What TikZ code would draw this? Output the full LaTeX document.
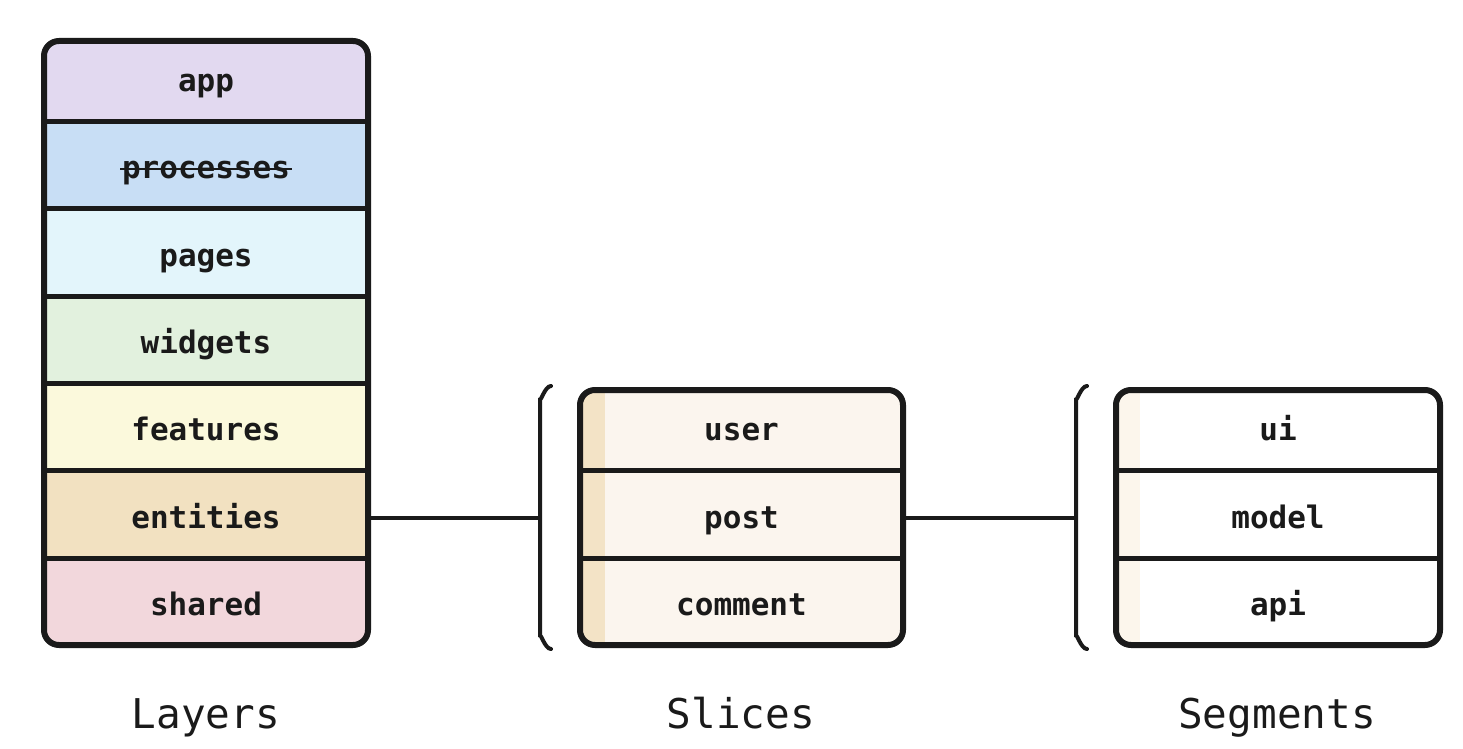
\documentclass[tikz,border=0pt]{standalone}
\usepackage{fontspec}
\setmonofont{DejaVu Sans Mono}
\usepackage{tikz}
\usetikzlibrary{positioning}
\definecolor{InkBlack}{HTML}{1A1A1A}
\definecolor{AppPurple}{HTML}{E2D9F0}
\definecolor{ProcBlue}{HTML}{C8DEF5}
\definecolor{PageCyan}{HTML}{E3F5FB}
\definecolor{WidgGreen}{HTML}{E2F1DE}
\definecolor{FeatYellow}{HTML}{FBF9DC}
\definecolor{EntTan}{HTML}{F2E1C1}
\definecolor{SharPink}{HTML}{F2D7DC}
\definecolor{SliceCream}{HTML}{FBF5EE}
\definecolor{SliceStrip}{HTML}{F3E3C6}
\definecolor{SegStrip}{HTML}{FCF6EC}
\newcommand{\strikeword}[1]{\setbox0=\hbox{#1}\rlap{\kern-1pt\raisebox{0.27em}{\rule{\dimexpr\wd0+2pt\relax}{0.9pt}}}\box0}

\tikzset{
  row/.style={minimum width=162pt, minimum height=43.7pt, inner sep=0pt,
    text height=17pt, text depth=3pt,
    text=InkBlack, font=\fontsize{15.5}{18}\selectfont\ttfamily\bfseries},
  boxline/.style={line width=3pt, draw=InkBlack, rounded corners=7.5pt},
  divline/.style={line width=2.5pt, draw=InkBlack},
  brace/.style={line width=2pt, draw=InkBlack, line cap=round},
  wire/.style={line width=2pt, draw=InkBlack},
  caption/.style={anchor=base, text=InkBlack, font=\fontsize{20.5}{24}\selectfont\ttfamily}
}

\begin{document}
\begin{tikzpicture}[x=0.5pt, y=-0.5pt]
    \useasboundingbox (0,0) rectangle (1463,749);

    % layers
    \begin{scope}
      \clip[rounded corners=7.5pt] (44,41) rectangle (368,645);
      \node[row, fill=AppPurple] (app) at (206,77.3) {app};
      \node[row, fill=ProcBlue] (processes) at (206,164.6) {\strikeword{processes}};
      \node[row, fill=PageCyan] (pages) at (206,252.0) {pages};
      \node[row, fill=WidgGreen] (widgets) at (206,339.4) {widgets};
      \node[row, fill=FeatYellow] (features) at (206,426.7) {features};
      \node[row, fill=EntTan] (entities) at (206,514.1) {entities};
      \node[row, fill=SharPink] (shared) at (206,601.5) {shared};
    \end{scope}
    \draw[divline] (app.south west) -- (app.south east);
    \draw[divline] (processes.south west) -- (processes.south east);
    \draw[divline] (pages.south west) -- (pages.south east);
    \draw[divline] (widgets.south west) -- (widgets.south east);
    \draw[divline] (features.south west) -- (features.south east);
    \draw[divline] (entities.south west) -- (entities.south east);
    \draw[boxline] (44,41) rectangle (368,645);

    % slices
    \begin{scope}
      \clip[rounded corners=7.5pt] (580,390) rectangle (903,645);
      \fill[SliceCream] (580,390) rectangle (903,645);
      \fill[SliceStrip] (580,390) rectangle (605,645);
      \node[row, minimum width=161.5pt] (user) at (741.5,426.8) {user};
      \node[row, minimum width=161.5pt] (post) at (741.5,514.1) {post};
      \node[row, minimum width=161.5pt] (comment) at (741.5,601.5) {comment};
    \end{scope}
    \draw[divline] (user.south west) -- (user.south east);
    \draw[divline] (post.south west) -- (post.south east);
    \draw[boxline] (580,390) rectangle (903,645);

    % segments
    \begin{scope}
      \clip[rounded corners=7.5pt] (1116,390) rectangle (1440,645);
      \fill[white] (1116,390) rectangle (1440,645);
      \fill[SegStrip] (1116,390) rectangle (1140,645);
      \node[row] (ui) at (1278,426.8) {ui};
      \node[row] (model) at (1278,514.1) {model};
      \node[row] (api) at (1278,601.5) {api};
    \end{scope}
    \draw[divline] (ui.south west) -- (ui.south east);
    \draw[divline] (model.south west) -- (model.south east);
    \draw[boxline] (1116,390) rectangle (1440,645);

    % brackets and wires
    \draw[brace] (551,386) to[out=180, in=-90] (540,398) -- (540,637) to[out=90, in=180] (551,649);
    \coordinate (slicebrace) at (540,518);
    \draw[brace] (1087,386) to[out=180, in=-90] (1076,398) -- (1076,637) to[out=90, in=180] (1087,649);
    \coordinate (segbrace) at (1076,518);
    \draw[wire] (entities.east |- slicebrace) -- (slicebrace);
    \draw[wire] (post.east |- segbrace) -- (segbrace);

    % captions
    \node[caption] (layerscap) at (206,728) {Layers};
    \node[caption] (slicescap) at (741,728) {Slices};
    \node[caption] (segmentscap) at (1277,728) {Segments};
  \end{tikzpicture}
\end{document}
